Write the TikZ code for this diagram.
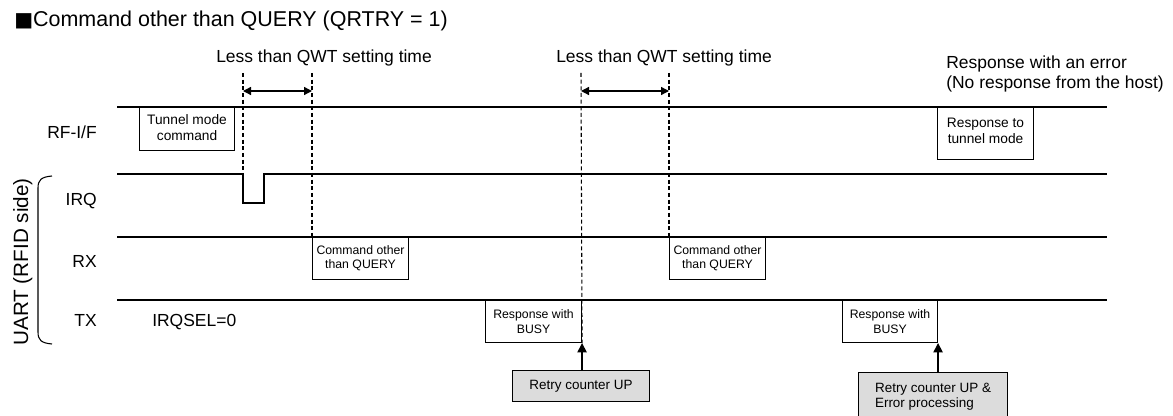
\documentclass[tikz,border=0pt]{standalone}
\usepackage{fontspec}
\setmainfont{Liberation Sans}
\newfontfamily\symfont{DejaVu Sans}
\usetikzlibrary{arrows.meta,positioning,calc}
\definecolor{shade}{HTML}{DCDCDC}

\begin{document}
\begin{tikzpicture}[x=0.75pt,y=-0.75pt,>={Triangle[length=6pt,width=6pt]},
  every node/.style={inner sep=0pt},
  lbl/.style={font=\fontsize{13.1}{15}\selectfont},
  sig/.style={lbl,anchor=base east},
  wire/.style={line width=0.8pt},
  guide/.style={line width=0.8pt,dash pattern=on 3pt off 2pt},
  box/.style={draw,line width=0.8pt,fill=white,anchor=north west,align=center},
  rfbox/.style={box,font=\fontsize{10.3}{12}\selectfont,minimum width=71.25pt},
  uabox/.style={box,font=\fontsize{9.2}{10.4}\selectfont,minimum width=72pt},
  cntbox/.style={box,fill=shade,font=\fontsize{10.1}{11.3}\selectfont}]
\clip (0,0) rectangle (1173,416);

% title and signal names
\node[font=\fontsize{16.1}{18}\selectfont,anchor=base west] (title) at (14,27) {{\symfont\fontsize{15}{18}\selectfont ■}Command other than QUERY (QRTRY = 1)};
\node[sig] (rfif) at (97,139) {RF-I/F};
\node[sig] (irq) at (97,206) {IRQ};
\node[sig] (rx) at (97,268) {RX};
\node[sig] (tx) at (97,326) {TX};
\node[lbl,anchor=base west] (irqsel) at (152,326) {IRQSEL=0};
\node[font=\fontsize{15.5}{18}\selectfont,rotate=90,anchor=base] (uart) at (28,262) {UART (RFID side)};
\draw[wire] (52,176) .. controls (41,177) and (38,180) .. (38,188) -- (38,332) .. controls (38,340) and (41,343) .. (52,344);

% signal lines
\draw[wire] (117,107) -- (1107,107);
\draw[wire] (117,174) -- (243,174) -- (243,203) -- (264,203) -- (264,174) -- (1107,174);
\draw[wire] (117,237) -- (1107,237);
\draw[wire] (117,300) -- (1107,300);
\coordinate (irqdn) at (243,174);

% frames on the lines
\node[rfbox,minimum height=32.25pt] (tunnel) at (139,107) {Tunnel mode\\command\rule[-2pt]{0pt}{0pt}};
\node[rfbox,minimum height=39pt,minimum width=72pt] (reply) at (937,107) {Response to\\tunnel mode\rule[-4pt]{0pt}{0pt}};
\node[uabox,minimum height=31.5pt] (cmd1) at (312,237) {Command other\\than QUERY};
\node[uabox,minimum height=31.5pt] (cmd2) at (669,237) {Command other\\than QUERY};
\node[uabox,font=\fontsize{9.2}{11}\selectfont,minimum height=31.5pt] (busy1) at (485,300) {Response with\\BUSY};
\node[uabox,font=\fontsize{9.2}{11}\selectfont,minimum height=31.5pt,minimum width=71.25pt] (busy2) at (842,300) {Response with\\BUSY};
\node[cntbox,minimum width=102.75pt,minimum height=23.25pt] (retry1) at (512,370) {Retry counter UP};
\node[cntbox,minimum width=111.75pt,minimum height=40pt,align=left] (retry2) at (858,372) {Retry counter UP \&\\Error processing\rule[-6pt]{0pt}{0pt}};

% QWT windows
\node[lbl,anchor=base west] (qwt1) at (216,63) {Less than QWT setting time};
\node[lbl,anchor=base west] (qwt2) at (556,63) {Less than QWT setting time};
\node[lbl,anchor=base west,align=left] (err) at (946,89) {Response with an error\\(No response from the host)};
\coordinate (t1) at (243,73);
\coordinate (t2) at (312,73);
\coordinate (t3) at (581,73);
\coordinate (t4) at (669,73);
\draw[guide] (t1) -- (irqdn);
\draw[guide] (t2) -- (cmd1.north west);
\draw[guide] (t3) -- (busy1.south east);
\draw[guide] (t4) -- (cmd2.north west);
\draw[<->,line width=1pt] ($(t1)+(0,18)$) -- ($(t2)+(0,18)$);
\draw[<->,line width=1pt] ($(t3)+(0,18)$) -- ($(t4)+(0,18)$);

% counter actions
\draw[-{Triangle[length=7pt,width=7pt]},line width=1pt] (busy1.south east |- retry1.north) -- (busy1.south east);
\draw[-{Triangle[length=7pt,width=7pt]},line width=1pt] (busy2.south east |- retry2.north) -- (busy2.south east);
\end{tikzpicture}
\end{document}
